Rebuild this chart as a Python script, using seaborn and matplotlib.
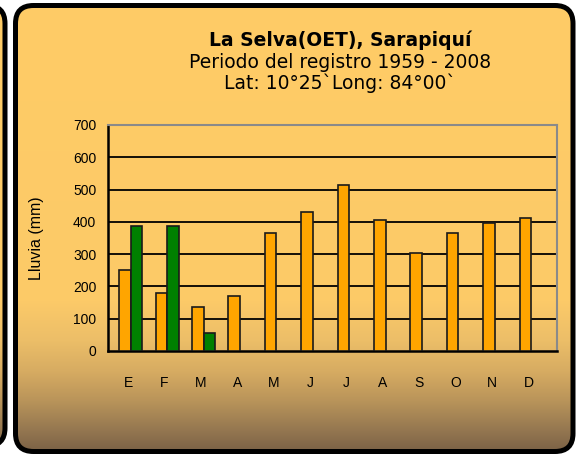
import numpy as np
import pandas as pd
import matplotlib
matplotlib.use("Agg")
import matplotlib.pyplot as plt
import seaborn as sns
from matplotlib.patches import FancyBboxPatch

meses = ['E', 'F', 'M', 'A', 'M', 'J', 'J', 'A', 'S', 'O', 'N', 'D']
lluvia_promedio = [252, 180, 135, 171, 366, 429, 514, 405, 304, 365, 398, 411]
lluvia_serie2 = [388, 388, 56, np.nan, np.nan, np.nan, np.nan, np.nan, np.nan, np.nan, np.nan, np.nan]
y_ticks = [0, 100, 200, 300, 400, 500, 600, 700]

df = pd.DataFrame({
    'mes': list(range(12)) * 2,
    'serie': ['promedio'] * 12 + ['serie2'] * 12,
    'lluvia': lluvia_promedio + lluvia_serie2,
})

sns.set_style("white")
plt.rcParams['font.family'] = ['Liberation Sans', 'DejaVu Sans']
plt.rcParams['text.color'] = 'black'
plt.rcParams['axes.labelcolor'] = 'black'
plt.rcParams['xtick.color'] = 'black'
plt.rcParams['ytick.color'] = 'black'

W, H = 577, 455
fig = plt.figure(figsize=(W / 100, H / 100), dpi=100)

# background panels with gradient
bg = fig.add_axes([0, 0, 1, 1])
bg.set_xlim(0, W)
bg.set_ylim(H, 0)
bg.axis('off')

stops_y = [0, 300, 340, 370, 400, 430, 455]
stops_c = np.array([(255, 204, 102), (252, 202, 104), (236, 190, 104), (215, 172, 98),
                    (185, 148, 90), (148, 118, 80), (118, 94, 68)]) / 255
yy = np.arange(H)
grad = np.stack([np.interp(yy, stops_y, stops_c[:, k]) for k in range(3)], axis=-1)[:, None, :]

for (x0, x1, y0, y1) in [(-200, 5, 5.5, 446), (15.5, 573, 5.5, 451.5)]:
    box = FancyBboxPatch((x0 + 18, y0 + 18), (x1 - x0) - 36, (y1 - y0) - 36,
                         boxstyle="round,pad=18", transform=bg.transData,
                         facecolor='none', edgecolor='black', linewidth=3.6, zorder=3)
    bg.add_patch(box)
    im = bg.imshow(grad, extent=[0, W, H, 0], aspect='auto', zorder=1)
    im.set_clip_path(box)

# title
tx = 340 / W
fig.text(tx, 1 - 40 / H, 'La Selva(OET), Sarapiquí', ha='center', va='center',
         fontsize=13.5, fontweight='bold', family='DejaVu Sans')
fig.text(tx, 1 - 62 / H, 'Periodo del registro 1959 - 2008', ha='center', va='center',
         fontsize=13.5, family='DejaVu Sans')
fig.text(tx, 1 - 83 / H, 'Lat: 10°25`Long: 84°00`', ha='center', va='center',
         fontsize=13.5, family='DejaVu Sans')

# chart area
ax = fig.add_axes([108 / W, 1 - 351 / H, (557 - 108) / W, (351 - 125) / H])
ax.patch.set_alpha(0)

sns.barplot(data=df, x='mes', y='lluvia', hue='serie', ax=ax,
            palette=['#FFA500', '#008000'], saturation=1, width=0.634, legend=False,
            edgecolor='#1a1a1a', linewidth=1.2, zorder=3)

ax.set_xlim(-0.624, 11.71)
ax.set_ylim(0, 700)

for v in y_ticks[1:-1]:
    ax.axhline(v, color='black', linewidth=1.3, zorder=1)

ax.set_yticks(y_ticks)
ax.set_yticks(np.arange(50, 700, 100), minor=True)
ax.tick_params(axis='y', which='major', direction='inout', length=6, width=1.2,
               color='black', pad=5.5, labelsize=10)
ax.tick_params(axis='y', which='minor', direction='in', length=4, width=1.2, color='black')

ax.set_xticks(np.arange(12) - 0.074)
ax.set_xticklabels(meses)
ax.set_xticks(np.arange(13) - 0.55, minor=True)
ax.tick_params(axis='x', which='major', length=0, pad=18, labelsize=10)
ax.tick_params(axis='x', which='minor', direction='out', length=4, width=1.2, color='black')

ax.set_xlabel('')
ax.set_ylabel('Lluvia (mm)', fontsize=11.5)
ax.yaxis.set_label_coords((44 - 108) / 449, 0.5)

for s in ['left', 'bottom']:
    ax.spines[s].set_color('black')
    ax.spines[s].set_linewidth(1.8)
for s in ['top', 'right']:
    ax.spines[s].set_color('#8a8a8a')
    ax.spines[s].set_linewidth(1.5)

fig.savefig('out.png', dpi=100)
